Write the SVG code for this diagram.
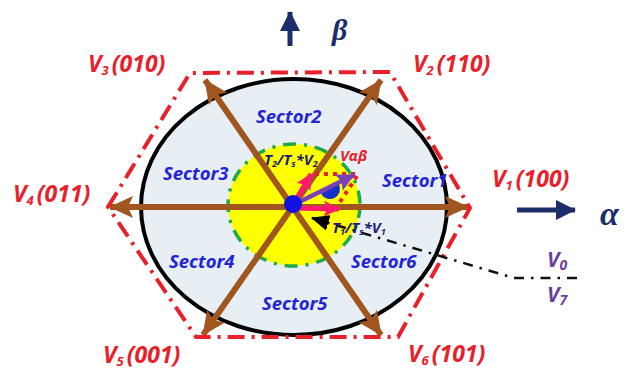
<svg xmlns="http://www.w3.org/2000/svg" width="631" height="374" viewBox="0 0 631 374">
<defs>
<style>
.lbl{font-family:"Noto Sans","Liberation Sans",sans-serif;font-weight:bold;font-style:italic;}
.vred{fill:#e8202a;font-size:23px;}
.sec{fill:#2424d6;font-size:18.5px;}
.axis{fill:#1b2d6b;font-family:"Liberation Serif","DejaVu Serif",serif;font-weight:bold;font-style:italic;}
.small{font-size:15px;}
.brown{stroke:#a0561e;stroke-width:6;fill:none;}
.hex{stroke:#e8202a;stroke-width:4;fill:none;stroke-dasharray:17 7 3 7;}
.dd{stroke:#111;stroke-width:2.5;fill:none;stroke-dasharray:10 7 2.5 7;}
</style>
<marker id="bh" markerUnits="userSpaceOnUse" viewBox="0 0 24 22" markerWidth="24" markerHeight="22" refX="23" refY="11" orient="auto-start-reverse">
<path d="M0,0 L24,11 L0,22 L5,11 Z" fill="#a0561e"/>
</marker>
<marker id="ph" markerUnits="userSpaceOnUse" viewBox="0 0 16 16" markerWidth="16" markerHeight="16" refX="15" refY="8" orient="auto">
<path d="M0,0 L16,8 L0,16 L3,8 Z" fill="#ff1a70"/>
</marker>
<marker id="uh" markerUnits="userSpaceOnUse" viewBox="0 0 18 18" markerWidth="18" markerHeight="18" refX="17" refY="9" orient="auto">
<path d="M0,0 L18,9 L0,18 L3,9 Z" fill="#7b3fb8"/>
</marker>
<marker id="kh" markerUnits="userSpaceOnUse" viewBox="0 0 18 16" markerWidth="18" markerHeight="16" refX="17" refY="8" orient="auto">
<path d="M0,0 L18,8 L0,16 Z" fill="#000"/>
</marker>
<marker id="nh" markerUnits="userSpaceOnUse" viewBox="0 0 20 20" markerWidth="20" markerHeight="20" refX="19" refY="10" orient="auto">
<path d="M0,0 L20,10 L0,20 Z" fill="#1b2d6b"/>
</marker>
</defs>

<g id="plane">
<ellipse cx="294" cy="207" rx="153" ry="128" fill="#e7eff4" stroke="none"/>
<ellipse cx="294" cy="205" rx="66" ry="61" fill="#ffff00"/>
<ellipse cx="294" cy="205" rx="66" ry="61" fill="none" stroke="#1fa84c" stroke-width="3.5" stroke-dasharray="13 8 3 8"/>
<ellipse cx="294" cy="207" rx="153" ry="128" fill="none" stroke="#000" stroke-width="4"/>
</g>

<g id="sectors">
<text class="lbl sec" x="256" y="123">Sector2</text>
<text class="lbl sec" x="163" y="180">Sector3</text>
<text class="lbl sec" x="382" y="187">Sector1</text>
<text class="lbl sec" x="169" y="268">Sector4</text>
<text class="lbl sec" x="351" y="268">Sector6</text>
<text class="lbl sec" x="262" y="310">Sector5</text>
</g>

<g id="connectors">
<line class="brown" x1="110" y1="207" x2="468" y2="207" marker-start="url(#bh)" marker-end="url(#bh)"/>
<line class="brown" x1="205" y1="80" x2="381" y2="335" marker-start="url(#bh)" marker-end="url(#bh)"/>
<line class="brown" x1="381" y1="80" x2="203" y2="335" marker-start="url(#bh)" marker-end="url(#bh)"/>
<polygon class="hex" points="108,207 190,73 390,72 470,208 398,337 196,337"/>
<polyline class="dd" points="577,278 514,278 312,218" marker-end="url(#kh)"/>
<line x1="290" y1="46" x2="290" y2="12" stroke="#1b2d6b" stroke-width="5" marker-end="url(#nh)"/>
<line x1="517" y1="210" x2="575" y2="210" stroke="#1b2d6b" stroke-width="5" marker-end="url(#nh)"/>
</g>

<g id="vectors">
<line x1="315" y1="174" x2="357" y2="174" stroke="#e8202a" stroke-width="4" stroke-dasharray="4 5"/>
<line x1="357" y1="176" x2="340" y2="202" stroke="#e8202a" stroke-width="4" stroke-dasharray="4 5"/>
<line x1="293" y1="205" x2="311" y2="174" stroke="#ff1a70" stroke-width="5" marker-end="url(#ph)"/>
<line x1="293" y1="208" x2="339" y2="209" stroke="#ff1a70" stroke-width="5" marker-end="url(#ph)"/>
<line x1="293" y1="205" x2="354" y2="175" stroke="#7b3fb8" stroke-width="4.5" marker-end="url(#uh)"/>
<path d="M320,189 A10,10 0 0 0 340,189 Z" fill="#1530c8" transform="rotate(-26 330 189)"/>
<circle cx="293" cy="204" r="9" fill="#1212e0"/>
</g>

<g id="vlabels">
<text class="lbl vred" x="88" y="72">V<tspan font-size="13" dy="3">3</tspan><tspan dy="-3" dx="3">(010)</tspan></text>
<text class="lbl vred" x="413" y="72">V<tspan font-size="13" dy="3">2</tspan><tspan dy="-3" dx="3">(110)</tspan></text>
<text class="lbl vred" x="13" y="202">V<tspan font-size="13" dy="3">4</tspan><tspan dy="-3" dx="3">(011)</tspan></text>
<text class="lbl vred" x="492" y="187">V<tspan font-size="13" dy="3">1</tspan><tspan dy="-3" dx="3">(100)</tspan></text>
<text class="lbl vred" x="103" y="363">V<tspan font-size="13" dy="3">5</tspan><tspan dy="-3" dx="3">(001)</tspan></text>
<text class="lbl vred" x="408" y="362">V<tspan font-size="13" dy="3">6</tspan><tspan dy="-3" dx="3">(101)</tspan></text>
</g>

<g id="small-labels">
<text class="lbl small" x="264" y="165" fill="#1c1c78">T<tspan font-size="9" dy="2">2</tspan><tspan dy="-2">/T</tspan><tspan font-size="9" dy="2">s</tspan><tspan dy="-2">*V</tspan><tspan font-size="9" dy="2">2</tspan></text>
<text class="lbl small" x="340" y="161" fill="#e8202a">Vαβ</text>
<text class="lbl small" x="332" y="233" fill="#1c1c78">T<tspan font-size="9" dy="2">1</tspan><tspan dy="-2">/T</tspan><tspan font-size="9" dy="2">s</tspan><tspan dy="-2">*V</tspan><tspan font-size="9" dy="2">1</tspan></text>
</g>

<g id="zero">
<text class="lbl" x="547" y="267" font-size="21" fill="#6a3d9a">V<tspan font-size="14" dy="3">0</tspan></text>
<text class="lbl" x="547" y="302" font-size="21" fill="#6a3d9a">V<tspan font-size="14" dy="3">7</tspan></text>
</g>

<g id="axes">
<text class="axis" x="332" y="40" font-size="30">β</text>
<text class="axis" x="600" y="225" font-size="34">α</text>
</g>
</svg>
